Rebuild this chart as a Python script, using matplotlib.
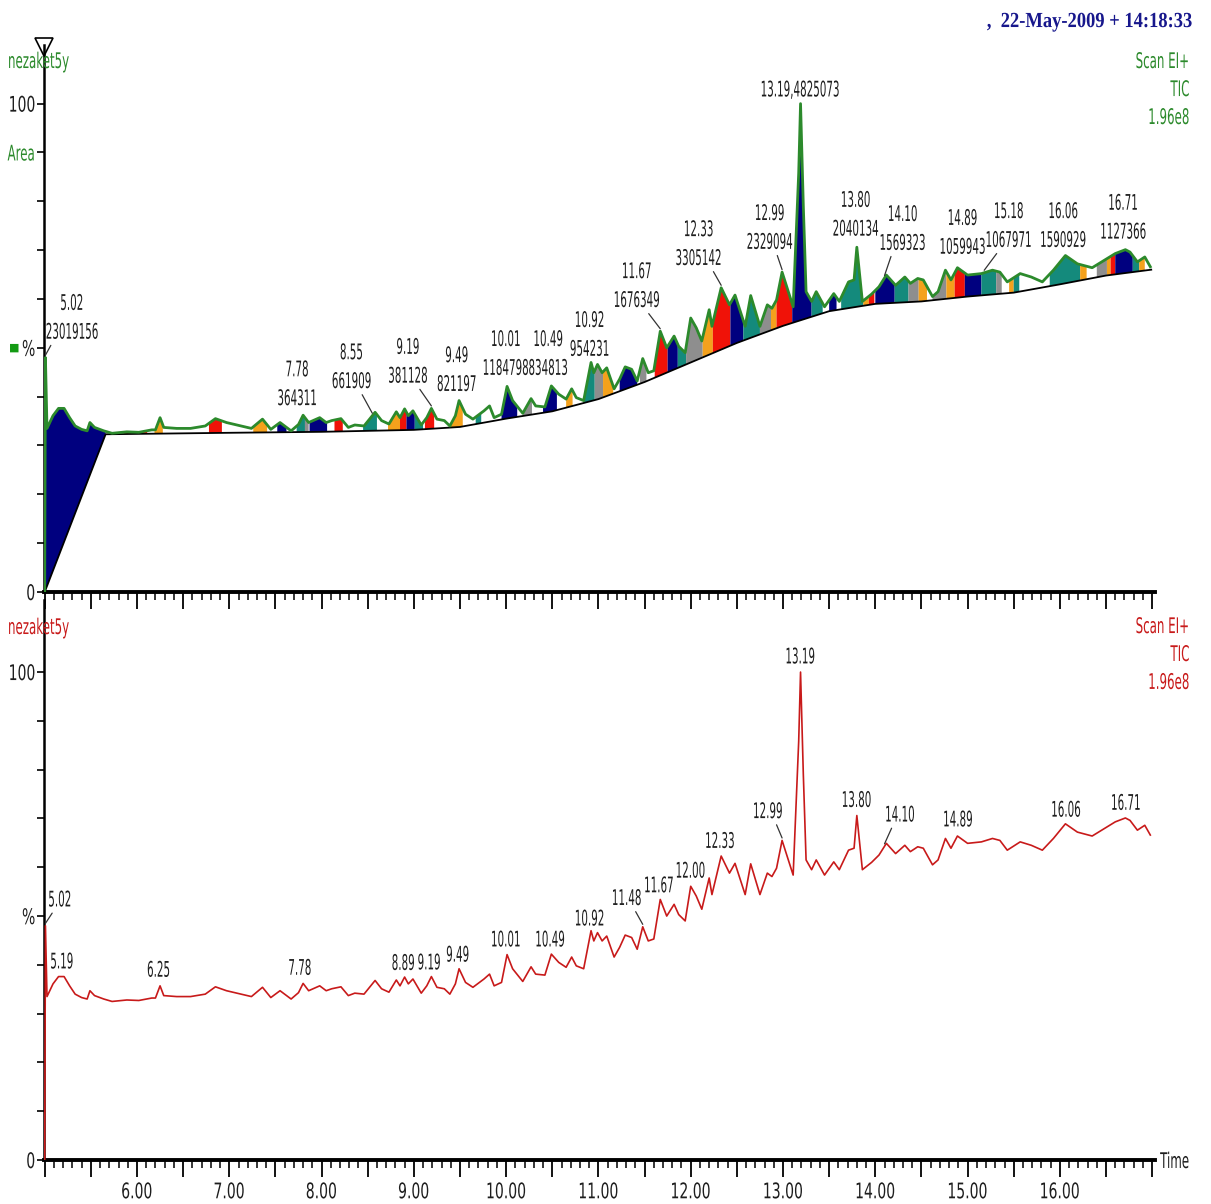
#!/usr/bin/env python3
"""
Two-panel TIC chromatogram (Scan EI+), integrated peaks on top, raw trace below.
Writes out.png.
"""

import numpy as np
import matplotlib
matplotlib.use("Agg")
import matplotlib.pyplot as plt
from matplotlib.patheffects import AbstractPathEffect
from matplotlib.ticker import MultipleLocator, FuncFormatter
from matplotlib.transforms import Affine2D

# --- TIC trace: retention time (min) vs relative intensity (%) ---
RT = [
    5.000, 5.008, 5.025, 5.09, 5.15, 5.21, 5.27, 5.33, 5.40, 5.46, 5.49, 5.54,
    5.64, 5.73, 5.89, 6.02, 6.16, 6.20, 6.25, 6.29, 6.43, 6.58, 6.74, 6.85,
    6.97, 7.13, 7.24, 7.36, 7.45, 7.55, 7.67, 7.75, 7.80, 7.86, 7.98, 8.05,
    8.11, 8.21, 8.29, 8.36, 8.46, 8.58, 8.65, 8.73, 8.81, 8.85, 8.90, 8.94,
    8.99, 9.08, 9.14, 9.19, 9.25, 9.33, 9.39, 9.45, 9.49, 9.56, 9.64, 9.76,
    9.82, 9.87, 9.95, 10.01, 10.07, 10.18, 10.27, 10.32, 10.42, 10.49, 10.57,
    10.65, 10.71, 10.76, 10.84, 10.92, 10.95, 10.99, 11.04, 11.09, 11.17,
    11.23, 11.29, 11.36, 11.42, 11.48, 11.54, 11.60, 11.67, 11.74, 11.82,
    11.87, 11.94, 12.00, 12.06, 12.12, 12.20, 12.23, 12.33, 12.42, 12.48,
    12.59, 12.65, 12.75, 12.83, 12.88, 12.93, 12.99, 13.11, 13.17, 13.19,
    13.22, 13.25, 13.31, 13.36, 13.45, 13.55, 13.61, 13.71, 13.77, 13.80,
    13.86, 13.96, 14.04, 14.12, 14.22, 14.32, 14.38, 14.46, 14.52, 14.62,
    14.68, 14.76, 14.82, 14.89, 15.00, 15.15, 15.27, 15.35, 15.43, 15.57,
    15.69, 15.81, 15.93, 16.06, 16.19, 16.35, 16.48, 16.60, 16.71, 16.76,
    16.84, 16.92, 16.98,
]
TIC = [
    0.0, 48.0, 33.5, 36.1, 37.6, 37.6, 35.7, 34.0, 33.3, 33.0, 34.7, 33.7,
    33.0, 32.5, 32.8, 32.7, 33.2, 33.2, 35.7, 33.7, 33.5, 33.5, 34.0, 35.5,
    34.7, 34.0, 33.5, 35.4, 33.3, 34.7, 33.0, 34.3, 36.2, 34.7, 35.7, 34.7,
    35.1, 35.5, 33.7, 34.2, 34.0, 36.8, 35.1, 34.4, 36.9, 35.7, 37.5, 36.1,
    37.1, 34.2, 35.7, 37.6, 35.4, 35.1, 34.0, 36.1, 39.2, 36.4, 35.4, 37.1,
    38.1, 35.7, 36.4, 42.1, 39.2, 36.6, 39.6, 38.1, 37.9, 42.2, 40.5,
    39.5, 41.6, 39.8, 39.2, 47.0, 44.9, 46.6, 44.9, 45.9, 41.6,
    43.6, 46.1, 45.6, 43.2, 47.8, 44.9, 45.3, 53.4, 50.0, 52.4,
    50.3, 49.0, 56.1, 54.1, 51.4, 57.8, 54.4, 62.3, 58.8, 60.8,
    54.4, 60.7, 54.4, 58.8, 58.1, 59.8, 65.5, 58.4, 85.8, 100.0,
    79.1, 61.5, 59.5, 61.5, 58.4, 61.1, 59.5, 63.5, 63.9, 70.6,
    59.5, 61.0, 62.5, 64.9, 62.8, 64.5, 63.2, 64.2, 63.9, 60.5,
    61.5, 65.9, 63.9, 66.4, 64.9, 65.2, 65.9, 65.5, 63.5, 65.2,
    64.5, 63.5, 65.9, 68.9, 67.2, 66.4, 67.9, 69.3, 70.1, 69.6,
    67.6, 68.6, 66.6,
]

# --- integration baseline of the upper panel ---
BASE_RT = [5.00, 5.66, 7.0, 8.0, 9.0, 9.5, 10.0, 10.5, 11.0, 11.5, 12.0, 12.5,
           13.0, 13.5, 14.0, 14.5, 15.0, 15.5, 16.0, 16.5, 16.99]
BASE_PCT = [0.0, 32.3, 32.6, 32.8, 33.2, 33.8, 35.5, 37.0, 39.5, 43.0, 47.0, 51.0,
            54.5, 57.5, 59.0, 59.5, 60.5, 61.3, 63.0, 64.8, 66.0]

# --- integrated peak windows (start, end, colour code) ---
PEAK_START = [5.00, 5.86, 6.02, 6.19, 6.78, 7.26, 7.52, 7.73, 7.82, 7.87, 8.14,
              8.45, 8.72, 8.85, 8.92, 9.01, 9.12, 9.39, 9.67, 9.95, 10.18, 10.40,
              10.65, 10.84, 10.96, 11.05, 11.23, 11.45, 11.61, 11.75, 11.86, 11.95,
              12.13, 12.24, 12.43, 12.57, 12.75, 12.87, 12.93, 13.10, 13.31, 13.50,
              13.63, 13.87, 13.93, 14.00, 14.21, 14.36, 14.47, 14.62, 14.77, 14.86,
              14.97, 15.15, 15.31, 15.45, 15.50, 15.89, 16.22, 16.40, 16.51, 16.55,
              16.60, 16.79, 16.86]
PEAK_END = [5.66, 5.93, 6.11, 6.28, 6.92, 7.41, 7.62, 7.82, 7.86, 8.06, 8.23,
            8.60, 8.85, 8.92, 9.01, 9.10, 9.22, 9.53, 9.73, 10.12, 10.28, 10.55,
            10.72, 10.96, 11.05, 11.16, 11.42, 11.52, 11.75, 11.86, 11.95, 12.13,
            12.24, 12.43, 12.57, 12.75, 12.87, 12.93, 13.10, 13.31, 13.43, 13.58,
            13.87, 13.93, 13.99, 14.21, 14.36, 14.47, 14.56, 14.77, 14.86, 14.97,
            15.15, 15.31, 15.37, 15.50, 15.56, 16.22, 16.29, 16.51, 16.55, 16.60,
            16.79, 16.86, 16.92]
PEAK_CODE = "NORORONTGNRTORNTROTNGNOTGONGRNTGORNTGORNTNTORNTGOGORNTGOTTOGORNTO"

# --- peak labels, upper panel: retention time, area ---
TOP_RT_TXT = ["5.02", "7.78", "8.55", "9.19", "9.49", "10.01", "10.49", "10.92",
              "11.67", "12.33", "12.99", "13.80", "14.10", "14.89", "15.18",
              "16.06", "16.71"]
TOP_AREA_TXT = ["23019156", "364311", "661909", "381128", "821197", "1184798",
                "834813", "954231", "1676349", "3305142", "2329094", "2040134",
                "1569323", "1059943", "1067971", "1590929", "1127366"]
TOP_MAIN_TXT = "13.19,4825073"

# --- peak labels, lower panel ---
BOT_RT_TXT = ["5.02", "5.19", "6.25", "7.78", "8.89", "9.19", "9.49", "10.01",
              "10.49", "10.92", "11.48", "11.67", "12.00", "12.33", "12.99",
              "13.19", "13.80", "14.10", "14.89", "16.06", "16.71"]

Y_TICKS = list(range(0, 101, 10))
TOP_YLABELS = ["0", "", "", "", "", "%", "", "", "", "Area", "100"]
BOT_YLABELS = ["0", "", "", "", "", "%", "", "", "", "", "100"]

# layout of label anchors (x in min, y in %); leader = fraction of the way
# from label centre towards the peak where the leader starts (0 = no leader)
TOP_LABEL_POS = [(5.30, 53.1), (7.74, 39.5), (8.33, 43.0), (8.94, 44.1),
                 (9.47, 42.4), (10.00, 45.7), (10.46, 45.7), (10.91, 49.6),
                 (11.42, 59.6), (12.09, 68.2), (12.86, 71.5), (13.79, 74.2),
                 (14.30, 71.3), (14.95, 70.5), (15.45, 71.9), (16.04, 71.9),
                 (16.69, 73.6)]
TOP_LEADER = [0.8, 0, 0.5, 0.5, 0, 0, 0, 0, 0.5, 0.65, 0.6, 0, 0.65, 0, 0.5, 0, 0]
BOT_LABEL_POS = [(5.17, 53.2), (5.19, 40.5), (6.24, 38.8), (7.77, 39.2),
                 (8.89, 40.2), (9.17, 40.3), (9.48, 41.9), (10.00, 45.0),
                 (10.48, 45.0), (10.91, 49.3), (11.31, 53.5), (11.66, 56.1),
                 (12.00, 59.1), (12.32, 65.2), (12.84, 71.3), (13.19, 103.0),
                 (13.80, 73.6), (14.27, 70.6), (14.90, 69.6), (16.07, 71.6),
                 (16.72, 73.0)]
BOT_LEADER = [0.55, 0, 0, 0, 0, 0, 0, 0, 0, 0, 0.55, 0, 0, 0, 0.6, 0, 0, 0.55,
              0, 0, 0]

FILL_COLOURS = {"N": "#00007f", "T": "#148a7c", "G": "#8e8e8e",
                "O": "#f4a11c", "R": "#f01208"}
GREEN = "#2c8a2c"
RED = "#c81a1a"
INK = "#1e1e1e"
XLIM = (4.992, 17.03)

plt.rcParams["font.family"] = ["DejaVu Sans"]
LABEL_SIZE = 15.5
SQUEEZE = 0.48        # the instrument software uses a very narrow face
SQUEEZE_SIDE = 0.55   # header / side texts
SQUEEZE_TICK = 0.65   # axis numbers are a little wider


class Squeeze(AbstractPathEffect):
    """Narrow the glyphs horizontally, keeping the text anchor in place."""

    def __init__(self, sx, ha):
        super().__init__()
        self._sx = sx
        self._frac = {"left": 0.0, "center": 0.5, "right": 1.0}.get(ha, 0.5)

    def draw_path(self, renderer, gc, tpath, affine, rgbFace=None):
        ext = tpath.get_extents()
        anchor = self._frac * ext.x1
        pre = Affine2D().scale(self._sx, 1.0).translate((1.0 - self._sx) * anchor, 0)
        renderer.draw_path(gc, tpath, pre + affine, rgbFace)


def _narrow(text, sx=SQUEEZE):
    text.set_path_effects([Squeeze(sx, text.get_ha())])
    return text


def _baseline(t):
    return np.interp(t, BASE_RT, BASE_PCT)


def _trace_at(t):
    return float(np.interp(t, RT, TIC))


def _style_axis(ax, ylabels, ytop, show_xlabels):
    ax.set_xlim(*XLIM)
    ax.set_ylim(0, ytop)
    for side in ("top", "right"):
        ax.spines[side].set_visible(False)
    ax.spines["left"].set_linewidth(1.8)
    ax.spines["bottom"].set_linewidth(2.8)
    ax.xaxis.set_major_locator(MultipleLocator(0.5))
    ax.xaxis.set_minor_locator(MultipleLocator(0.1))
    ax.xaxis.set_major_formatter(FuncFormatter(
        lambda v, _: f"{v:.2f}" if abs(v - round(v)) < 1e-6 and 5.5 < v < 16.5 else ""))
    ax.tick_params(axis="x", which="major", length=12, width=1.3, pad=4,
                   labelsize=LABEL_SIZE, labelbottom=show_xlabels, labelcolor=INK)
    ax.tick_params(axis="x", which="minor", length=6, width=1.1)
    ax.set_yticks(Y_TICKS)
    ax.set_yticklabels(ylabels)
    ax.tick_params(axis="y", length=5, width=1.2, pad=1, labelsize=LABEL_SIZE,
                   labelcolor=INK)
    ax.patch.set_alpha(0)


def _label(ax, txt, pos, rt_value, lead):
    _narrow(ax.text(pos[0], pos[1], txt, ha="center", va="center",
                    fontsize=LABEL_SIZE, color=INK))
    if lead:
        x0 = pos[0] + lead * (rt_value - pos[0])
        y0 = pos[1] - 2.6
        ax.annotate("", xy=(rt_value, _trace_at(rt_value) + 0.5), xytext=(x0, y0),
                    arrowprops=dict(arrowstyle="-", lw=0.9, color="#333333",
                                    shrinkA=0, shrinkB=0))


def main():
    fig = plt.figure(figsize=(12.11, 12.04), dpi=100)
    ax_top = fig.add_axes([0.0363, 0.5083, 0.9174, 0.4543])
    ax_bot = fig.add_axes([0.0363, 0.0365, 0.9174, 0.4651])

    t = np.asarray(RT)
    y = np.asarray(TIC)

    # --- upper panel: integrated peaks ---
    for a, b, code in zip(PEAK_START, PEAK_END, PEAK_CODE):
        inside = (t > a) & (t < b)
        xs = np.concatenate([[a], t[inside], [b, b, a]])
        ys = np.concatenate([[_trace_at(a)], y[inside],
                             [_trace_at(b), _baseline(b), _baseline(a)]])
        ax_top.fill(xs, ys, color=FILL_COLOURS[code], lw=0)
    ax_top.plot(BASE_RT, BASE_PCT, color="black", lw=1.3)
    ax_top.plot(t, y, color=GREEN, lw=2.0, zorder=3)
    _style_axis(ax_top, TOP_YLABELS, 112.0, False)
    ax_top.get_yticklabels()[9].set_color(GREEN)
    ax_top.plot([XLIM[0]], [111.5], marker="v", ms=13, mfc="none", mec="black",
                mew=1.2, clip_on=False)
    ax_top.text(-0.027, 50, "\u25a0", transform=ax_top.get_yaxis_transform(),
                ha="center", va="center", fontsize=8, color="#139a13")

    for rt_txt, area_txt, pos, lead in zip(TOP_RT_TXT, TOP_AREA_TXT,
                                            TOP_LABEL_POS, TOP_LEADER):
        rt_val = RT[1] if rt_txt == "5.02" else float(rt_txt)
        _label(ax_top, area_txt, pos, rt_val, lead)
        _narrow(ax_top.text(pos[0], pos[1] + 5.9, rt_txt, ha="center", va="center",
                            fontsize=LABEL_SIZE, color=INK))
    _narrow(ax_top.text(13.19, 102.7, TOP_MAIN_TXT, ha="center", va="center",
                        fontsize=LABEL_SIZE, color=INK))

    # --- lower panel: raw trace ---
    ax_bot.plot(t, y, color=RED, lw=1.2, zorder=3)
    _style_axis(ax_bot, BOT_YLABELS, 114.75, True)
    for rt_txt, pos, lead in zip(BOT_RT_TXT, BOT_LABEL_POS, BOT_LEADER):
        rt_val = RT[1] if rt_txt == "5.02" else float(rt_txt)
        _label(ax_bot, rt_txt, pos, rt_val, lead)

    # --- header texts ---
    _narrow(fig.text(0.984, 0.9817, ",  22-May-2009 + 14:18:33", ha="right",
                     va="center", fontsize=15.5, fontweight="bold", color="#17178c",
                     family=["Liberation Serif", "DejaVu Serif"]), 0.86)
    for yy, txt in zip((0.9485, 0.9252, 0.9020), ("Scan EI+", "TIC", "1.96e8")):
        _narrow(fig.text(0.9827, yy, txt, ha="right", va="center",
                         fontsize=LABEL_SIZE, color=GREEN), SQUEEZE_SIDE)
    for yy, txt in zip((0.4792, 0.4560, 0.4328), ("Scan EI+", "TIC", "1.96e8")):
        _narrow(fig.text(0.9827, yy, txt, ha="right", va="center",
                         fontsize=LABEL_SIZE, color=RED), SQUEEZE_SIDE)
    _narrow(fig.text(0.0066, 0.9485, "nezaket5y", ha="left", va="center",
                     fontsize=LABEL_SIZE, color=GREEN), SQUEEZE_SIDE)
    _narrow(fig.text(0.0066, 0.4784, "nezaket5y", ha="left", va="center",
                     fontsize=LABEL_SIZE, color=RED), SQUEEZE_SIDE)
    _narrow(fig.text(0.958, 0.0349, "Time", ha="left", va="center",
                     fontsize=LABEL_SIZE, color=INK), SQUEEZE_SIDE)

    # tick labels exist only after a first draw
    fig.canvas.draw()
    for ax in (ax_top, ax_bot):
        for lab in ax.get_xticklabels() + ax.get_yticklabels():
            sx = SQUEEZE_SIDE if lab.get_text() == "Area" else SQUEEZE_TICK
            _narrow(lab, sx)

    fig.savefig("out.png", dpi=100)
    plt.close(fig)


if __name__ == "__main__":
    main()
